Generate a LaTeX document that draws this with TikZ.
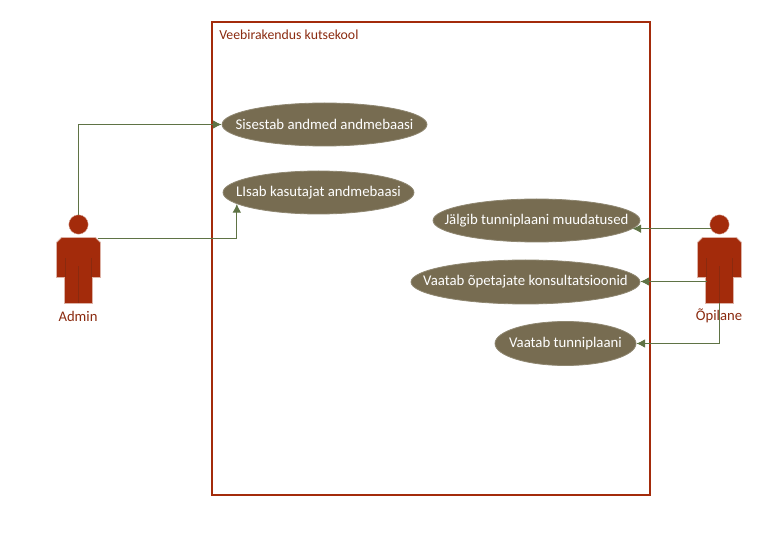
\documentclass[tikz,border=0pt]{standalone}
\usepackage{fontspec}
\setmainfont{Carlito}
\usetikzlibrary{arrows.meta,positioning,shapes.geometric}
\definecolor{rust}{HTML}{A32B0B}
\definecolor{rustdark}{HTML}{8A2A0F}
\definecolor{rustpale}{HTML}{DDB2A6}
\definecolor{olive}{HTML}{776C51}
\definecolor{olivepale}{HTML}{8F8771}
\definecolor{moss}{HTML}{5F7345}
\newcommand{\casetext}[1]{\makebox[0pt]{#1}}

\begin{document}
\begin{tikzpicture}[x=0.75pt,y=-0.75pt]
\tikzstyle{usecase}=[ellipse, inner sep=0pt, fill=olive, draw=olivepale, line width=0.6pt, text=white, font=\fontsize{11.1}{13}\selectfont]
\tikzstyle{system}=[rectangle, draw=rust, line width=1.1pt]
\tikzstyle{connect}=[-{Latex[length=6.5pt,width=6.5pt]}, draw=moss, line width=0.75pt]
\tikzstyle{caption}=[text=rustdark, inner sep=0pt, font=\fontsize{11}{13}\selectfont]
\tikzstyle{head}=[circle, fill=rust, draw=rustpale, line width=0.3pt, minimum size=14.6pt, inner sep=0pt]
\tikzset{pics/actor/.style={code={
  \filldraw[fill=rust, draw=rustpale, line width=0.6pt] (-17,13) -- (17,13) -- (22,18) -- (22,53) -- (14,53) -- (14,79) -- (-14,79) -- (-14,53) -- (-22,53) -- (-22,18) -- cycle;
  \draw[rustdark, line width=0.6pt] (-13,34) -- (-13,53) (13,34) -- (13,53) (0,42) -- (0,79);
  \node[head] (head) at (0,0) {};
  \coordinate (arm) at (19,14);
  \coordinate (hip) at (-13,57);
  \coordinate (foot) at (0,79);
}}}
  \useasboundingbox (0,0) rectangle (774,534);
  \node[system, minimum width=328.5pt, minimum height=354.75pt] (kool) at (431,258.5) {};
  \node[caption, anchor=west, font=\fontsize{10.35}{12}\selectfont] (koollabel) at (219,35) {Veebirakendus kutsekool};
  \node[usecase, minimum width=153.75pt, minimum height=32.25pt] (sisestab) at (324.5,124.5) {\casetext{Sisestab andmed andmebaasi}};
  \node[usecase, minimum width=143.25pt, minimum height=32.25pt] (lisab) at (318.5,192.5) {\casetext{LIsab kasutajat andmebaasi}};
  \node[usecase, minimum width=155.25pt, minimum height=32.25pt] (jalgib) at (536.5,220.5) {\casetext{Jälgib tunniplaani muudatused}};
  \node[usecase, minimum width=171.75pt, minimum height=33pt] (konsult) at (525.5,282) {\casetext{Vaatab õpetajate konsultatsioonid}};
  \node[usecase, minimum width=105.75pt, minimum height=33pt] (tunniplaan) at (565.5,343.5) {\casetext{Vaatab tunniplaani}};
  \pic (admin) at (78.5,224.5) {actor};
  \pic (opilane) at (719.5,224.5) {actor};
  \node[caption] (adminlabel) at (78,316) {Admin};
  \node[caption] (opilanelabel) at (719,316) {Õpilane};
  \draw[connect] (adminhead.north) |- (sisestab.west);
  \draw[connect] (adminarm) -| (lisab.188);
  \draw[connect] (opilanehead.205) -- (jalgib.-5 |- opilanehead.205);
  \draw[connect] (opilanehip) -- (opilanehip -| konsult.east);
  \draw[connect] (opilanefoot) |- (tunniplaan.east);
\end{tikzpicture}
\end{document}
